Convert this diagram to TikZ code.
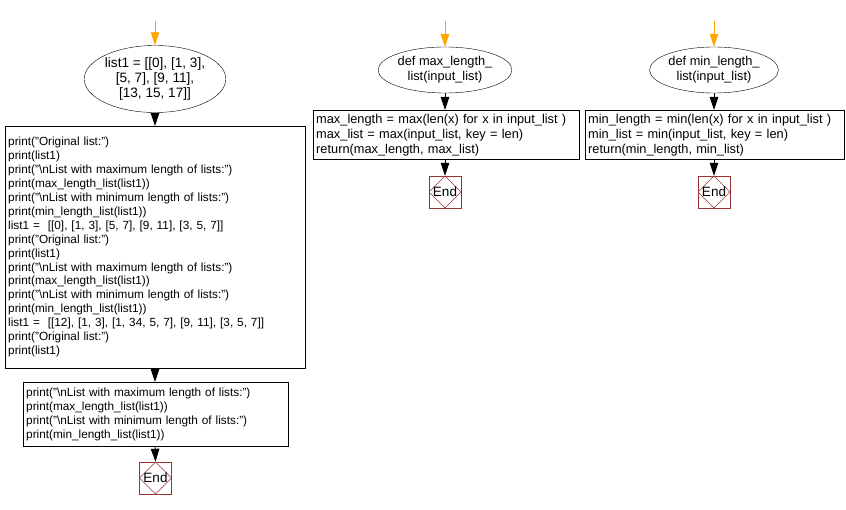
\documentclass[tikz,border=0pt]{standalone}
\usepackage{fontspec}
\setmainfont{Liberation Sans}
\usetikzlibrary{shapes.geometric,arrows.meta}
\definecolor{endred}{RGB}{153,51,51}
\definecolor{startorange}{RGB}{255,165,0}
\tikzset{
  txt/.style={font=\fontsize{11.8}{13.9}\selectfont},
  bigtxt/.style={font=\fontsize{12.8}{15}\selectfont},
  ell/.style={ellipse,draw,bigtxt,align=center,inner sep=0pt},
  codebox/.style={draw,txt,align=left,inner sep=3pt,anchor=north west},
  endbox/.style={draw=endred,minimum size=32,inner sep=0pt,font=\fontsize{13.5}{15}\selectfont,
    path picture={\draw[endred] (path picture bounding box.north) -- (path picture bounding box.east) -- (path picture bounding box.south) -- (path picture bounding box.west) -- cycle;}},
  arr/.style={-{Triangle[length=13pt,width=8.5pt]},line width=0.9pt},
  startarr/.style={arr,draw=startorange,fill=startorange}
}
\begin{document}
\begin{tikzpicture}[x=1pt,y=-1pt]
\useasboundingbox (0,0) rectangle (846,510);
% left column
\coordinate (s1) at (155,21);
\node[ell,minimum width=128,minimum height=67,font=\fontsize{13.6}{15}\selectfont] (e1) at (155,79) {list1 = [[0], [1, 3],\\{}[5, 7], [9, 11],\\{}[13, 15, 17]]};
\node[codebox,text width=294,minimum height=242] (b1) at (5,126) {print("Original list:")\\
print(list1)\\
print("\textbackslash nList with maximum length of lists:")\\
print(max\_length\_list(list1))\\
print("\textbackslash nList with minimum length of lists:")\\
print(min\_length\_list(list1))\\
list1 =\ \ [[0], [1, 3], [5, 7], [9, 11], [3, 5, 7]]\\
print("Original list:")\\
print(list1)\\
print("\textbackslash nList with maximum length of lists:")\\
print(max\_length\_list(list1))\\
print("\textbackslash nList with minimum length of lists:")\\
print(min\_length\_list(list1))\\
list1 =\ \ [[12], [1, 3], [1, 34, 5, 7], [9, 11], [3, 5, 7]]\\
print("Original list:")\\
print(list1)};
\node[codebox,text width=259,minimum height=64] (b2) at (23,382) {print("\textbackslash nList with maximum length of lists:")\\
print(max\_length\_list(list1))\\
print("\textbackslash nList with minimum length of lists:")\\
print(min\_length\_list(list1))};
\node[endbox] (end1) at (155.5,478) {End};
\draw[startarr] (s1) -- (e1.north);
\draw[arr] (e1.south) -- (b1.north -| e1.south);
\draw[arr] (b1.south -| e1.south) -- (b2.north -| e1.south);
\draw[arr] (b2.south -| e1.south) -- (end1.north);
% middle column
\coordinate (s2) at (445,21);
\node[ell,minimum width=120,minimum height=46] (e2) at (445,70) {def max\_length\_\\list(input\_list)};
\node[codebox,bigtxt,text width=260,minimum height=49] (b3) at (313,110) {max\_length = max(len(x) for x in input\_list )\\
max\_list = max(input\_list, key = len)\\
return(max\_length, max\_list)};
\node[endbox] (end2) at (445,192) {End};
\draw[startarr] (s2) -- (e2.north);
\draw[arr] (e2.south) -- (b3.north -| e2.south);
\draw[arr] (b3.south -| e2.south) -- (end2.north);
% right column
\coordinate (s3) at (714,21);
\node[ell,minimum width=116,minimum height=46] (e3) at (714,70) {def min\_length\_\\list(input\_list)};
\node[codebox,bigtxt,text width=253,minimum height=49] (b4) at (585,110) {min\_length = min(len(x) for x in input\_list )\\
min\_list = min(input\_list, key = len)\\
return(min\_length, min\_list)};
\node[endbox] (end3) at (714,192) {End};
\draw[startarr] (s3) -- (e3.north);
\draw[arr] (e3.south) -- (b4.north -| e3.south);
\draw[arr] (b4.south -| e3.south) -- (end3.north);
\end{tikzpicture}
\end{document}
